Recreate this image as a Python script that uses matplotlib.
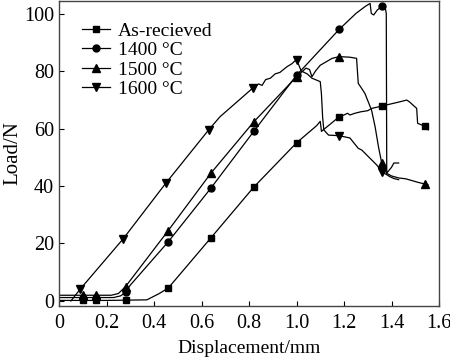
import matplotlib
matplotlib.use("Agg")
import matplotlib.pyplot as plt

plt.rcParams['font.family'] = ['Liberation Serif', 'DejaVu Serif']

# ---- data (traced curves) ----
asr_x = [0.0, 0.20, 0.37, 0.42, 0.46, 0.64, 0.82, 1.0, 1.085, 1.10, 1.105, 1.18, 1.20, 1.215, 1.225,
         1.246, 1.27, 1.30, 1.317, 1.36, 1.40, 1.436, 1.464, 1.475, 1.506, 1.51, 1.537, 1.555]
asr_y = [0.2, 0.2, 0.4, 2.5, 4.5, 22.0, 39.6, 55.0, 61.0, 62.5, 59.0, 64.1, 64.7, 65.3, 64.7,
         65.3, 65.8, 66.2, 67.0, 67.8, 68.6, 69.3, 69.9, 69.3, 67.0, 61.8, 60.9, 59.5]
asr_mx = [0.10, 0.155, 0.28, 0.46, 0.64, 0.82, 1.0, 1.18, 1.36, 1.54]
asr_my = [0.2, 0.2, 0.3, 4.5, 22.0, 39.6, 55.0, 64.1, 67.8, 60.7]

t14_x = [0.0, 0.23, 0.26, 0.28, 0.30, 0.46, 0.64, 0.82, 1.0, 1.18, 1.25, 1.29, 1.31, 1.315,
         1.325, 1.34, 1.36, 1.373, 1.378, 1.38, 1.40, 1.41, 1.43]
t14_y = [1.2, 1.2, 1.8, 3.0, 5.5, 20.6, 39.3, 59.0, 78.5, 94.5, 100.0, 102.5, 103.5, 100.0,
         99.5, 101.2, 102.5, 102.3, 100.0, 44.5, 46.5, 48.0, 48.0]
t14_mx = [0.10, 0.155, 0.28, 0.46, 0.64, 0.82, 1.0, 1.18, 1.36]
t14_my = [1.2, 1.2, 3.0, 20.6, 39.3, 59.0, 78.5, 94.5, 102.5]

t15_x = [0.0, 0.22, 0.25, 0.28, 0.46, 0.64, 0.82, 1.0, 1.02, 1.04, 1.055, 1.065, 1.08, 1.10,
         1.15, 1.18, 1.225, 1.253, 1.26, 1.274, 1.288, 1.316, 1.331, 1.345, 1.359, 1.38, 1.40,
         1.43, 1.46, 1.49, 1.51, 1.54, 1.555]
t15_y = [2.0, 2.0, 2.6, 5.0, 24.5, 44.5, 62.3, 78.0, 79.5, 81.0, 80.5, 78.0, 80.0, 82.0,
         84.4, 85.0, 84.8, 84.4, 75.7, 74.0, 72.2, 66.4, 60.6, 53.7, 47.9, 44.4, 43.5,
         42.8, 42.5, 41.8, 41.3, 40.7, 40.3]
t15_mx = [0.10, 0.155, 0.28, 0.46, 0.64, 0.82, 1.0, 1.18, 1.36, 1.54]
t15_my = [2.0, 2.0, 5.0, 24.5, 44.5, 62.3, 78.0, 85.0, 47.9, 40.7]

t16_x = [0.05, 0.09, 0.27, 0.45, 0.63, 0.678, 0.815, 0.84, 0.855, 0.87, 0.89, 0.91, 0.93, 0.96,
         0.98, 1.0, 1.02, 1.045, 1.065, 1.10, 1.105, 1.11, 1.115, 1.135, 1.18, 1.225, 1.26,
         1.275, 1.31, 1.338, 1.359, 1.394, 1.41, 1.43]
t16_y = [0.0, 4.2, 21.6, 41.0, 59.5, 64.1, 74.0, 75.5, 75.0, 77.0, 77.5, 79.0, 79.5, 81.5,
         82.5, 84.0, 80.0, 79.0, 77.5, 76.3, 72.0, 64.0, 59.5, 57.7, 57.5, 56.7, 53.1,
         52.5, 49.6, 47.3, 45.0, 43.2, 42.6, 42.2]
t16_mx = [0.09, 0.27, 0.45, 0.63, 0.815, 1.0, 1.18, 1.36]
t16_my = [4.2, 21.6, 41.0, 59.5, 74.0, 84.0, 57.5, 45.0]

labels = ['As-recieved', '1400 °C', '1500 °C', '1600 °C']

# ---- plot ----
fig = plt.figure(figsize=(4.5, 3.59), dpi=100)
ax = fig.add_axes([59/450, 53/359, 380/450, 305/359])

series = [
    (asr_x, asr_y, asr_mx, asr_my, 's', 4.5),
    (t14_x, t14_y, t14_mx, t14_my, 'o', 5.0),
    (t15_x, t15_y, t15_mx, t15_my, '^', 5.5),
    (t16_x, t16_y, t16_mx, t16_my, 'v', 5.5),
]
handles = []
for (lx, ly, mx, my, mk, ms), lab in zip(series, labels):
    ax.plot(lx, ly, color='black', lw=0.9)
    ax.plot(mx, my, linestyle='none', marker=mk, ms=ms, color='black')
    h, = ax.plot([], [], color='black', lw=0.9, marker=mk, ms=ms, label=lab)
    handles.append(h)

ax.set_xlim(0, 1.6)
ax.set_ylim(-1.74, 104.35)
ax.set_xticks([0, 0.2, 0.4, 0.6, 0.8, 1.0, 1.2, 1.4, 1.6])
ax.set_xticklabels(['0', '0.2', '0.4', '0.6', '0.8', '1.0', '1.2', '1.4', '1.6'])
ax.set_yticks([0, 20, 40, 60, 80, 100])
ax.tick_params(direction='in', length=3.5, width=0.8, labelsize=14.5, colors='black')
ax.tick_params(axis='x', pad=6)
ax.tick_params(axis='y', pad=3.5)
for s in ax.spines.values():
    s.set_color('#444444')
    s.set_linewidth(1.0)

ax.set_xlabel('Displacement/mm', fontsize=14, labelpad=5)
ax.set_ylabel('Load/N', fontsize=15, labelpad=1)

ax.legend(handles=handles, loc='upper left', bbox_to_anchor=(0.04, 0.957), frameon=False,
          fontsize=14, handlelength=1.45, handletextpad=0.4, labelspacing=0.1,
          borderaxespad=0.0)

fig.savefig('out.png', dpi=100)
